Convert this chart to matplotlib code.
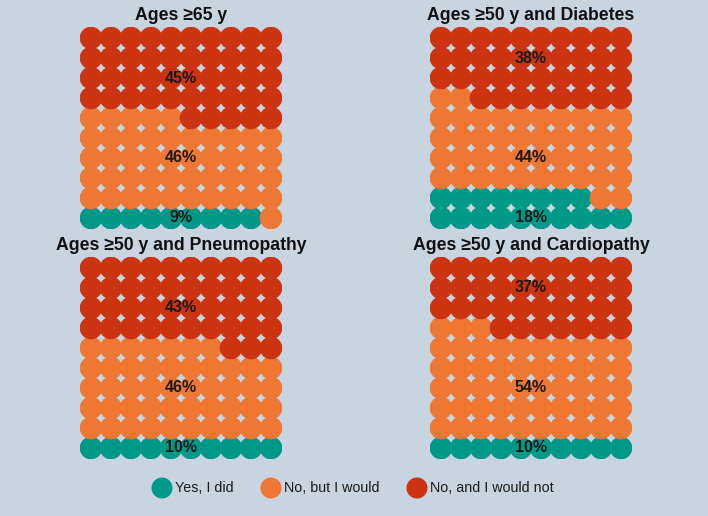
import matplotlib
matplotlib.use("Agg")
import matplotlib.pyplot as plt
from matplotlib.patches import Circle

plt.rcParams['font.family'] = ['Liberation Sans', 'DejaVu Sans']

# ---- data ----
titles = ["Ages \u226565 y", "Ages \u226550 y and Diabetes",
          "Ages \u226550 y and Pneumopathy", "Ages \u226550 y and Cardiopathy"]
categories = ["Yes, I did", "No, but I would", "No, and I would not"]
yes_cells = [9, 18, 10, 10]
would_cells = [46, 44, 47, 53]
wouldnot_cells = [45, 38, 43, 37]
yes_pct = [9, 18, 10, 10]
would_pct = [46, 44, 46, 54]
wouldnot_pct = [45, 38, 43, 37]

colors = ["#009988", "#EE7733", "#CC3311"]
bg = "#c8d4df"

W, H = 708, 516
fig = plt.figure(figsize=(W / 100, H / 100), dpi=100, facecolor=bg)

# panel placement in pixels (left, top)
panel_px = [(80, 27), (430, 27), (80, 257), (430, 257)]
size_px = 202

for p in range(4):
    left, top = panel_px[p]
    ax = fig.add_axes([left / W, (H - top - size_px) / H, size_px / W, size_px / H])
    ax.set_xlim(-0.55, 9.55)
    ax.set_ylim(-0.55, 9.55)
    ax.set_aspect('equal')
    ax.axis('off')
    ax.patch.set_alpha(0)
    counts = [yes_cells[p], would_cells[p], wouldnot_cells[p]]
    pcts = [yes_pct[p], would_pct[p], wouldnot_pct[p]]
    start = 0
    for c, (n, pct) in enumerate(zip(counts, pcts)):
        for i in range(start, start + n):
            row, col = i // 10, i % 10
            ax.add_patch(Circle((col, row), 0.565, facecolor=colors[c],
                                edgecolor='none', zorder=2))
        med = (start + start + n - 1) / 2
        lrow = int(med) // 10
        ax.text(4.5, lrow, f"{pct}%", ha='center', va='center',
                fontsize=11.5, fontweight='bold', color='#1a1a1a', zorder=3)
        start += n
    fig.text((left + size_px / 2) / W, 1 - (top - 7.5) / H, titles[p],
             ha='center', va='baseline', fontsize=12.7, fontweight='bold',
             color='#111111')

# ---- legend ----
lax = fig.add_axes([0, 0, 1, 1])
lax.set_xlim(0, W)
lax.set_ylim(H, 0)
lax.axis('off')
lax.patch.set_alpha(0)
lax.set_zorder(-1)
leg_circ_x = [162, 271, 417]
leg_text_x = [175, 284, 430]
for c in range(3):
    lax.add_patch(Circle((leg_circ_x[c], 488), 10.5, facecolor=colors[c], edgecolor='none'))
    lax.text(leg_text_x[c], 488.5, categories[c], ha='left', va='center',
             fontsize=10.3, color='#1a1a1a')

fig.savefig("out.png", dpi=100, facecolor=bg)
